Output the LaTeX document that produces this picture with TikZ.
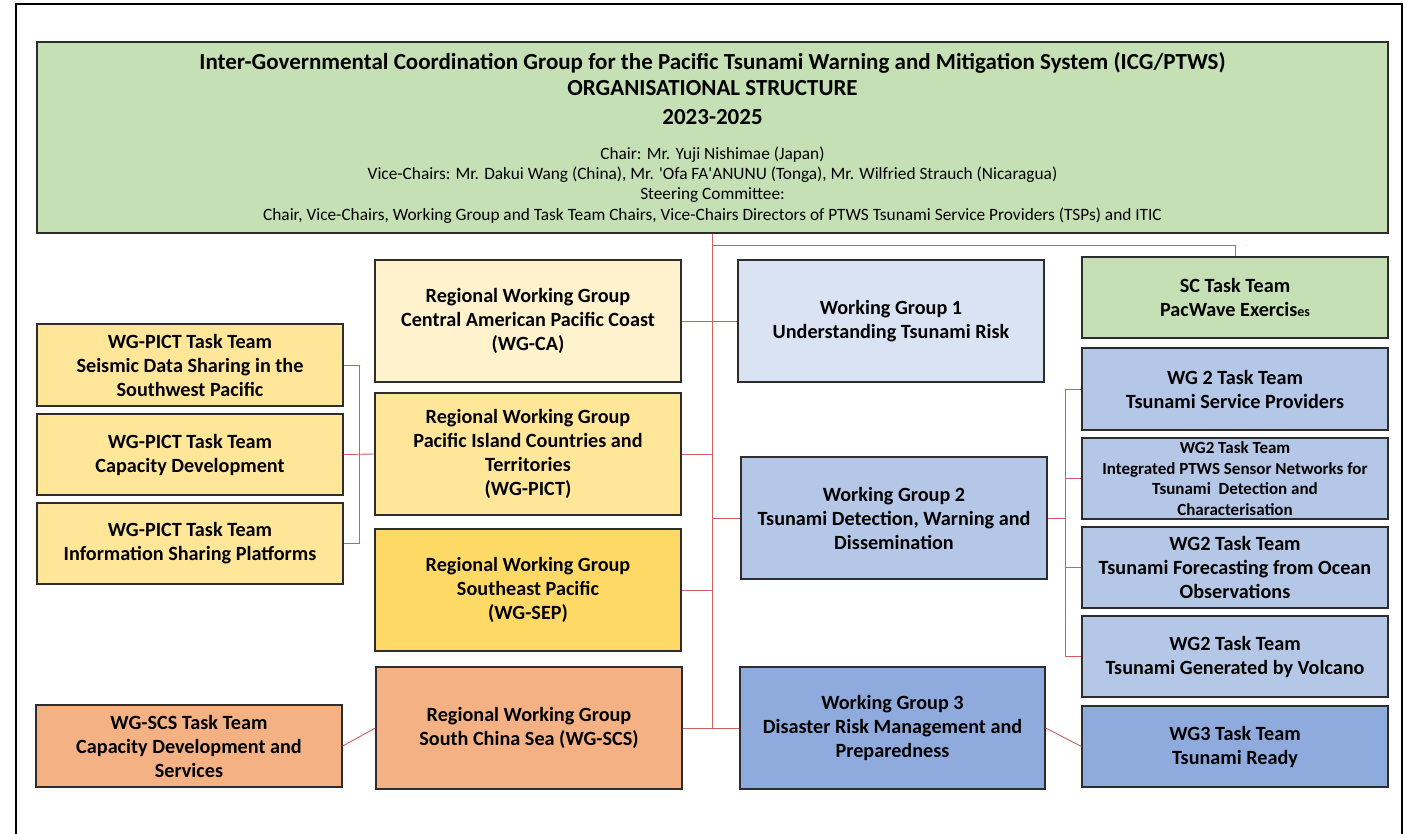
\documentclass[tikz,border=0pt]{standalone}
\usepackage{fontspec}
\setmainfont{Carlito}
\newfontfamily\plaincal{Carlito}
\definecolor{hdrgreen}{RGB}{197,224,180}
\definecolor{ylight}{RGB}{255,242,204}
\definecolor{ymid}{RGB}{255,230,153}
\definecolor{ydark}{RGB}{255,217,102}
\definecolor{orng}{RGB}{244,177,131}
\definecolor{blight}{RGB}{218,227,243}
\definecolor{bmid}{RGB}{180,199,231}
\definecolor{bdark}{RGB}{143,170,220}
\definecolor{linkred}{RGB}{205,95,95}
\definecolor{boxline}{RGB}{45,45,45}
\tikzset{
  box/.style={draw=boxline, line width=1.3pt, rectangle, align=center, inner sep=0pt,
    font=\bfseries\fontsize{20.2}{24}\selectfont, minimum width=306pt, minimum height=122pt},
  ttbox/.style={box, minimum height=81pt},
  conn/.style={draw=linkred, line width=0.9pt},
  titletext/.style={anchor=base, inner sep=0pt, font=\bfseries\fontsize{23}{27}\selectfont},
  smalltext/.style={anchor=base, inner sep=0pt, font=\plaincal\fontsize{17.3}{20}\selectfont},
}
\begin{document}
\begin{tikzpicture}[x=1pt,y=-1pt]
\useasboundingbox (0,0) rectangle (1407,834);
\fill[white] (0,0) rectangle (1407,834);
% outer frame
\draw[line width=2.6pt, black] (16,834) -- (16,4) -- (1402,4) -- (1402,834);

% header
\node[box, fill=hdrgreen, minimum width=1351pt, minimum height=191pt] (hdr) at (712.5,137.5) {};
\node[titletext] (h1) at (712.5,69.5) {Inter-Governmental Coordination Group for the Pacific Tsunami Warning and Mitigation System (ICG/PTWS)};
\node[titletext] (h2) at (712.5,95.5) {ORGANISATIONAL STRUCTURE};
\node[titletext] (h3) at (712.5,124.5) {2023-2025};
\node[smalltext] (h4) at (712.5,160) {Chair: Mr. Yuji Nishimae (Japan)};
\node[smalltext] (h5) at (712.5,180) {Vice-Chairs: Mr. Dakui Wang (China), Mr. 'Ofa FA'ANUNU (Tonga), Mr. Wilfried Strauch (Nicaragua)};
\node[smalltext] (h6) at (712.5,200) {Steering Committee:};
\node[smalltext] (h7) at (712.5,221) {Chair, Vice-Chairs, Working Group and Task Team Chairs, Vice-Chairs Directors of PTWS Tsunami Service Providers (TSPs) and ITIC};

% regional working groups
\node[box, fill=ylight] (wgca) at (528,321) {Regional Working Group\\Central American Pacific Coast\\(WG-CA)};
\node[box, fill=ymid] (wgpict) at (528,454) {Regional Working Group\\Pacific Island Countries and\\Territories\\(WG-PICT)};
\node[box, fill=ydark] (wgsep) at (528,590) {Regional Working Group\\Southeast Pacific\\(WG-SEP)};
\node[box, fill=orng] (wgscs) at (529,728) {Regional Working Group\\South China Sea (WG-SCS)};

% left task teams
\node[ttbox, fill=ymid, minimum height=82pt] (tt1) at (190,365) {WG-PICT Task Team\\Seismic Data Sharing in the\\Southwest Pacific};
\node[ttbox, fill=ymid] (tt2) at (190,454.5) {WG-PICT Task Team\\Capacity Development};
\node[ttbox, fill=ymid] (tt3) at (190,543.5) {WG-PICT Task Team\\Information Sharing Platforms};
\node[ttbox, fill=orng, minimum height=82pt] (scstt) at (189,746) {WG-SCS Task Team\\Capacity Development and\\Services};

% working groups
\node[box, fill=blight] (wg1) at (891,321) {Working Group 1\\Understanding Tsunami Risk};
\node[box, fill=bmid] (wg2) at (894,518) {Working Group 2\\Tsunami Detection, Warning and\\Dissemination};
\node[box, fill=bdark, minimum width=305pt] (wg3) at (892.5,728) {Working Group 3\\Disaster Risk Management and\\Preparedness};

% right task teams
\node[ttbox, fill=hdrgreen] (sctt) at (1235,297.5) {SC Task Team\\PacWave Exercis{\fontsize{14}{14}\selectfont es}};
\node[ttbox, fill=bmid, minimum height=82pt] (w2a) at (1235,389) {WG 2 Task Team\\Tsunami Service Providers};
\node[ttbox, fill=bmid, font=\bfseries\fontsize{17}{20.5}\selectfont] (w2b) at (1235,478.5) {WG2 Task Team\\Integrated PTWS Sensor Networks for\\Tsunami\ \ Detection and\\Characterisation};
\node[ttbox, fill=bmid] (w2c) at (1235,567.5) {WG2 Task Team\\Tsunami Forecasting from Ocean\\Observations};
\node[ttbox, fill=bmid] (w2d) at (1235,656.5) {WG2 Task Team\\Tsunami Generated by Volcano};
\node[ttbox, fill=bdark] (w3tt) at (1235,746.5) {WG3 Task Team\\Tsunami Ready};

% connectors
\coordinate (scj) at (712.5,245);
\coordinate (rb) at (1065,0);
\draw[conn] (hdr.south) -- (hdr.south |- wgscs.east);
\draw[conn] (scj) -| (sctt.north);
\draw[conn] (wgca.east) -- (wg1.west);
\draw[conn] (wgpict.east) -- (wgpict.east -| hdr.south);
\draw[conn] (wg2.west) -- (wg2.west -| hdr.south);
\draw[conn] (wgsep.east) -- (wgsep.east -| hdr.south);
\draw[conn] (wgscs.east) -- (wg3.west);
\draw[conn] (tt2.east) -- (wgpict.west);
\draw[conn] (tt1.east) -- ++(16,0) |- (tt3.east);
\draw[conn] (scstt.east) -- (wgscs.west);
\draw[conn] (w2a.west) -- (w2a.west -| rb) |- (w2d.west);
\draw[conn] (wg2.east) -- (wg2.east -| rb);
\draw[conn] (w2b.west) -- (w2b.west -| rb);
\draw[conn] (w2c.west) -- (w2c.west -| rb);
\draw[conn] (wg3.east) -- (w3tt.west);
\end{tikzpicture}
\end{document}
